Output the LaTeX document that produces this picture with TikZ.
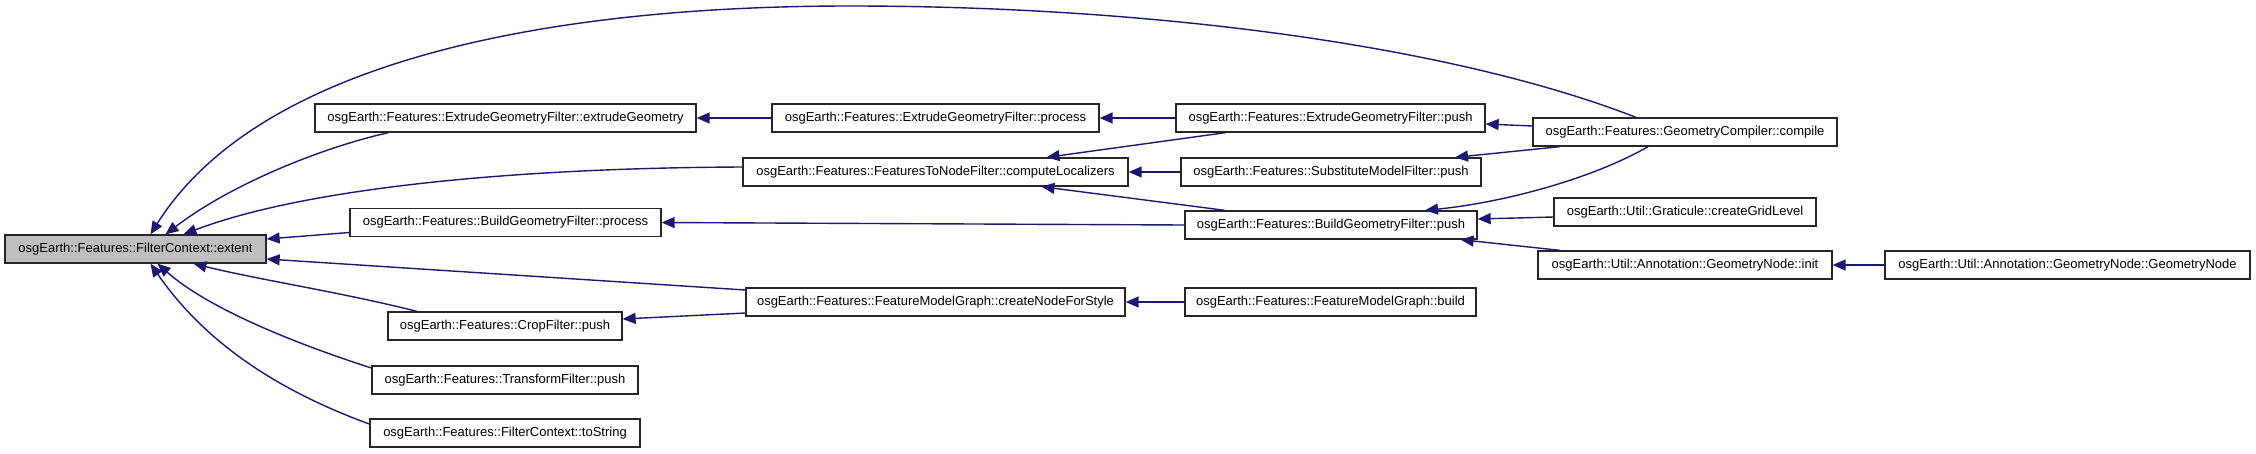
\documentclass[tikz,border=0pt]{standalone}
\usepackage{fontspec}
\setmainfont{Liberation Sans}
\usetikzlibrary{arrows.meta,calc}
\definecolor{edgeblue}{HTML}{191970}
\definecolor{rootgray}{HTML}{BFBFBF}
\tikzset{
  fn/.style={draw=black!85, line width=1.3pt, fill=white, minimum height=28pt,
    inner sep=0pt, font=\fontsize{13}{15}\selectfont},
  call/.style={edgeblue, line width=1.4pt, -{Triangle[length=13pt,width=11pt]}},
}
\begin{document}
\begin{tikzpicture}[x=1pt, y=-1pt]
    \useasboundingbox (0,0) rectangle (2256,453);

    % Root
    \node[fn, fill=rootgray, minimum width=261pt] (extent) at (135.5,249) {osgEarth::Features::FilterContext::extent};

    % Direct callers
    \node[fn, minimum width=381pt] (extrude) at (505.5,118) {osgEarth::Features::ExtrudeGeometryFilter::extrudeGeometry};
    \node[fn, minimum width=311pt] (bgproc) at (505.5,222.5) {osgEarth::Features::BuildGeometryFilter::process};
    \node[fn, minimum width=234pt] (crop) at (505,326) {osgEarth::Features::CropFilter::push};
    \node[fn, minimum width=266pt] (transform) at (505,380) {osgEarth::Features::TransformFilter::push};
    \node[fn, minimum width=270pt] (tostring) at (505,433) {osgEarth::Features::FilterContext::toString};

    % Third column
    \node[fn, minimum width=327pt] (egproc) at (935.5,118) {osgEarth::Features::ExtrudeGeometryFilter::process};
    \node[fn, minimum width=385pt] (localizers) at (935.5,172) {osgEarth::Features::FeaturesToNodeFilter::computeLocalizers};
    \node[fn, minimum width=379pt] (createnode) at (935.5,302) {osgEarth::Features::FeatureModelGraph::createNodeForStyle};

    % Fourth column
    \node[fn, minimum width=309pt] (egpush) at (1330.5,118) {osgEarth::Features::ExtrudeGeometryFilter::push};
    \node[fn, minimum width=300pt] (subst) at (1331,172) {osgEarth::Features::SubstituteModelFilter::push};
    \node[fn, minimum width=292pt] (bgpush) at (1331,225) {osgEarth::Features::BuildGeometryFilter::push};
    \node[fn, minimum width=291pt] (fmgbuild) at (1330.5,302) {osgEarth::Features::FeatureModelGraph::build};

    % Fifth and sixth column
    \node[fn, minimum width=304pt] (compile) at (1685,132) {osgEarth::Features::GeometryCompiler::compile};
    \node[fn, minimum width=262pt] (gridlevel) at (1685,212) {osgEarth::Util::Graticule::createGridLevel};
    \node[fn, minimum width=294pt] (gninit) at (1685,265) {osgEarth::Util::Annotation::GeometryNode::init};
    \node[fn, minimum width=365pt] (gnctor) at (2067.5,265) {osgEarth::Util::Annotation::GeometryNode::GeometryNode};

    % Straight calls
    \foreach \from/\to in {egproc/extrude, egpush/egproc, subst/localizers, bgpush/bgproc, gnctor/gninit, fmgbuild/createnode}
        \draw[call] (\from.west) -- (\to.east);

    % Calls into the root
    \draw[call] ($(compile.north)+(-49,0)$) .. controls (1450,45) and (1150,6) .. (850,6)
        .. controls (550,6) and (260,60) .. ($(extent.north)+(15,0)$);
    \draw[call] ($(extrude.south)+(-117,0)$) .. controls (320,148) and (230,185) .. ($(extent.north)+(30,0)$);
    \draw[call] ($(localizers.west)+(0,-5)$) .. controls (500,168) and (300,190) .. ($(extent.north)+(48,0)$);
    \draw[call] ($(bgproc.west)+(0,10)$) -- ($(extent.east)+(0,-10)$);
    \draw[call] ($(createnode.west)+(0,-12)$) -- ($(extent.east)+(0,10)$);
    \draw[call] ($(crop.north)+(-88,0)$) .. controls (340,292) and (260,280) .. ($(extent.south)+(58,0)$);
    \draw[call] ($(transform.west)+(0,-12)$) .. controls (300,345) and (210,310) .. ($(extent.south)+(22,0)$);
    \draw[call] ($(tostring.west)+(0,-9)$) .. controls (290,395) and (210,350) .. ($(extent.south)+(15,0)$);

    % Other calls
    \draw[call] ($(compile.west)+(0,-6)$) -- ($(egpush.east)+(0,6)$);
    \draw[call] ($(egpush.south)+(-105,0)$) -- ($(localizers.north)+(111,0)$);
    \draw[call] ($(bgpush.north)+(-106,0)$) -- ($(localizers.south)+(106,0)$);
    \draw[call] ($(compile.south)+(-125,0)$) -- ($(subst.north)+(124,0)$);
    \draw[call] ($(compile.south)+(-37,0)$) .. controls (1590,180) and (1500,203) .. ($(bgpush.north)+(94,0)$);
    \draw[call] ($(gridlevel.west)+(0,5)$) -- ($(bgpush.east)+(0,-6)$);
    \draw[call] ($(gninit.north)+(-125,0)$) -- ($(bgpush.south east)+(-17,0)$);
    \draw[call] ($(createnode.west)+(0,11)$) -- ($(crop.east)+(0,-7)$);
\end{tikzpicture}
\end{document}
